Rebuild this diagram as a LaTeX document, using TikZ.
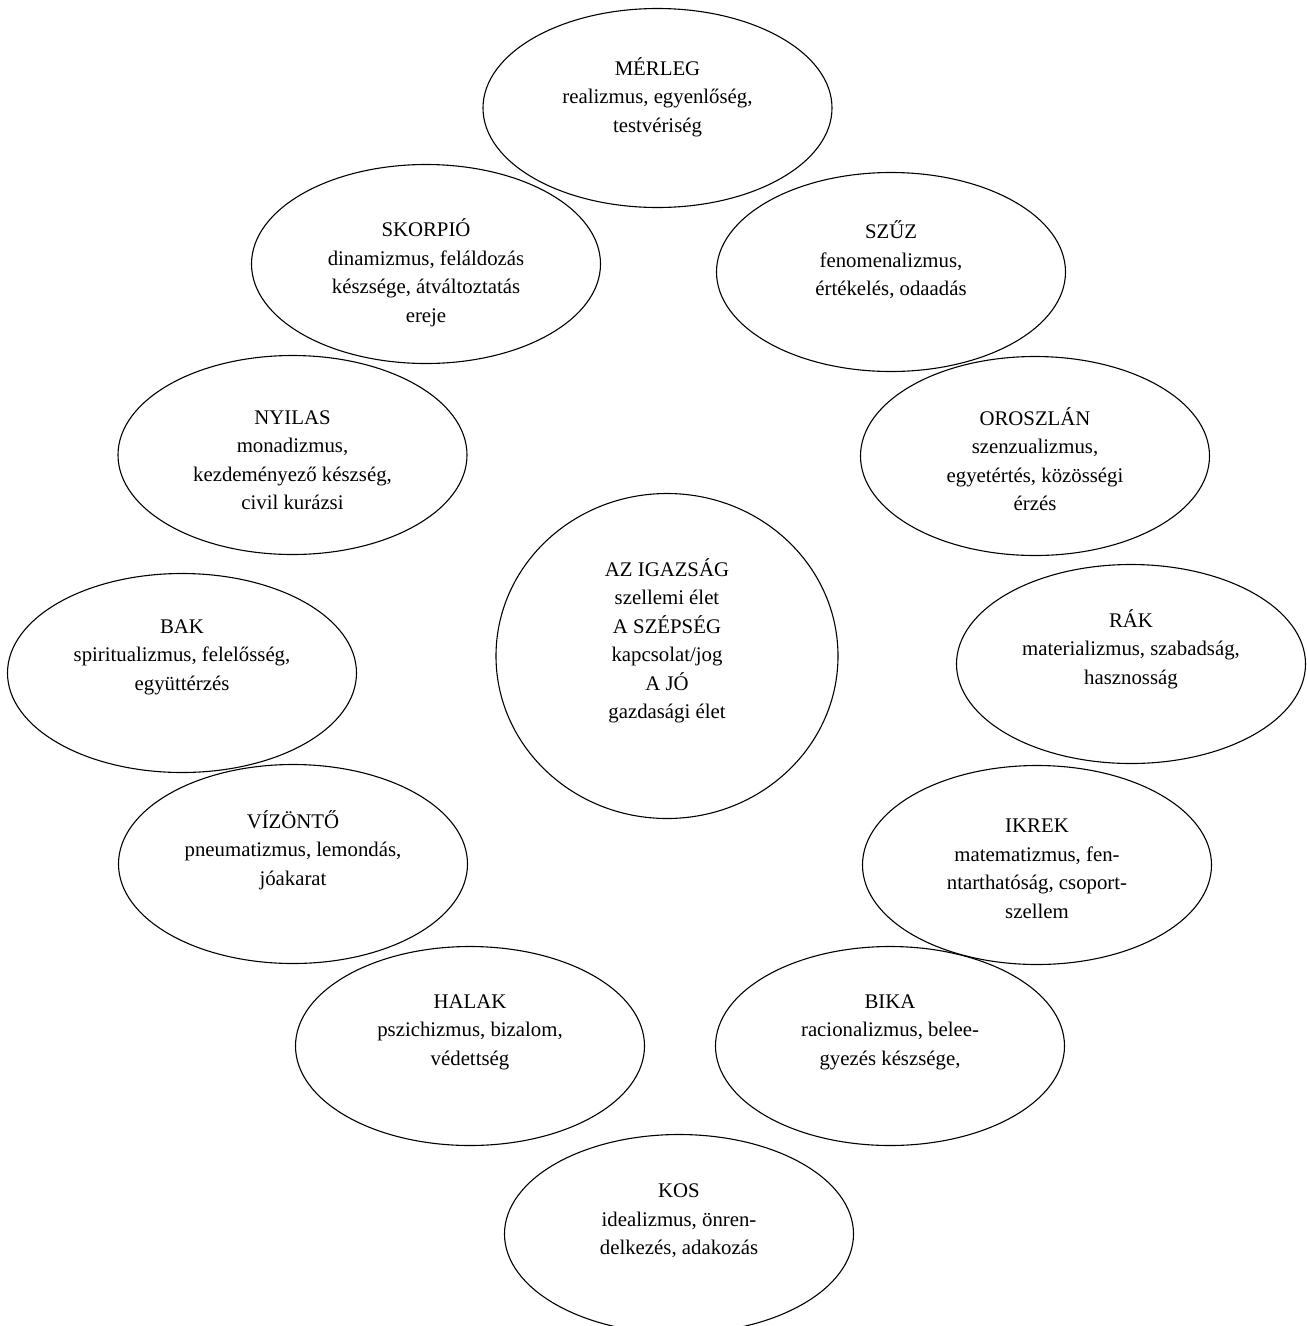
\documentclass[tikz,border=0pt]{standalone}
\usepackage{fontspec}
\setmainfont{Liberation Serif}
\usetikzlibrary{shapes.geometric,calc}
\begin{document}
\begin{tikzpicture}[x=1pt,y=-1pt,
  zell/.style={draw=black, line width=1.1pt, ellipse, minimum width=349pt, minimum height=199pt, inner sep=0pt},
  zcirc/.style={draw=black, line width=1.1pt, ellipse, minimum width=342pt, minimum height=325pt, inner sep=0pt},
  ztxt/.style={align=center, inner sep=0pt, font=\fontsize{20.8}{28.5}\selectfont}]
\useasboundingbox (0,0) rectangle (1307,1326);
\clip (0,0) rectangle (1307,1326);
% ellipses
\node[zell] (merleg) at (657.5,108) {};
\node[zell] (skorpio) at (426,264) {};
\node[zell] (szuz) at (891,272) {};
\node[zell] (nyilas) at (292.5,455) {};
\node[zell] (oroszlan) at (1035,456) {};
\node[zcirc] (kozep) at (667,656) {};
\node[zell] (bak) at (182,673) {};
\node[zell] (rak) at (1131,664) {};
\node[zell] (vizonto) at (293,864) {};
\node[zell] (ikrek) at (1037,865) {};
\node[zell] (halak) at (470,1046) {};
\node[zell] (bika) at (890,1046) {};
\node[zell] (kos) at (679,1234) {};
% texts
\node[ztxt] (merleg-t) at ($(merleg)+(0,-11)$) {MÉRLEG\\realizmus, egyenlőség,\\testvériség};
\node[ztxt] (skorpio-t) at ($(skorpio)+(0,9)$) {SKORPIÓ\\dinamizmus, feláldozás\\készsége, átváltoztatás\\ereje};
\node[ztxt] (szuz-t) at ($(szuz)+(0,-12)$) {SZŰZ\\fenomenalizmus,\\értékelés, odaadás};
\node[ztxt] (nyilas-t) at ($(nyilas)+(0,5)$) {NYILAS\\monadizmus,\\kezdeményező készség,\\civil kurázsi};
\node[ztxt] (oroszlan-t) at ($(oroszlan)+(0,3)$) {OROSZLÁN\\szenzualizmus,\\egyetértés, közösségi\\érzés};
\node[ztxt] (kozep-t) at ($(kozep)+(0,-15)$) {AZ IGAZSÁG\\szellemi élet\\A SZÉPSÉG\\kapcsolat/jog\\A JÓ\\gazdasági élet};
\node[ztxt] (bak-t) at ($(bak)+(0,-16)$) {BAK\\spiritualizmus, felelősség,\\együttérzés};
\node[ztxt] (rak-t) at ($(rak)+(0,-15)$) {RÁK\\materializmus, szabadság,\\hasznosság};
\node[ztxt] (vizonto-t) at ($(vizonto)+(0,-14)$) {VÍZÖNTŐ\\pneumatizmus, lemondás,\\jóakarat};
\node[ztxt] (ikrek-t) at ($(ikrek)+(0,4)$) {IKREK\\matematizmus, fen-\\ntarthatóság, csoport-\\szellem};
\node[ztxt] (halak-t) at ($(halak)+(0,-14)$) {HALAK\\pszichizmus, bizalom,\\védettség};
\node[ztxt] (bika-t) at ($(bika)+(0,-14)$) {BIKA\\racionalizmus, belee-\\gyezés készsége,};
\node[ztxt] (kos-t) at ($(kos)+(0,-13)$) {KOS\\idealizmus, önren-\\delkezés, adakozás};
\end{tikzpicture}
\end{document}
